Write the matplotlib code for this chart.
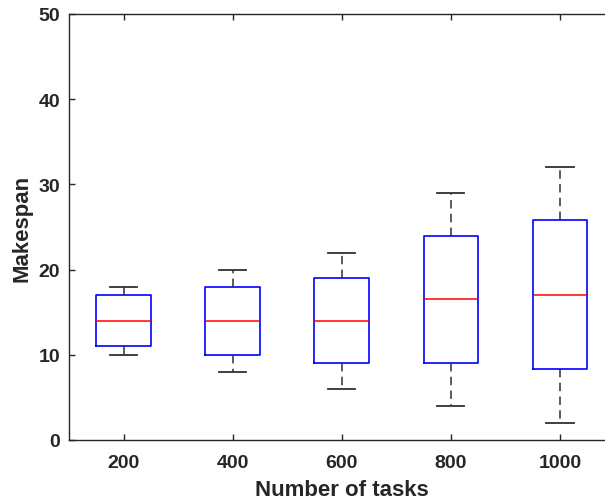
import matplotlib
matplotlib.use("Agg")
import matplotlib.pyplot as plt

plt.rcParams['font.family'] = ['Liberation Sans', 'DejaVu Sans']

# values
tasks = ["200", "400", "600", "800", "1000"]
whislo = [10, 8, 6, 4, 2]
q1 = [11, 10, 9, 9, 8.3]
med = [14, 14, 14, 16.5, 17]
q3 = [17, 18, 19, 24, 25.8]
whishi = [18, 20, 22, 29, 32]

stats = []
for i, lab in enumerate(tasks):
    stats.append(dict(label=lab, whislo=whislo[i], q1=q1[i], med=med[i],
                      q3=q3[i], whishi=whishi[i], fliers=[]))

fig = plt.figure(figsize=(6.05, 5.02), dpi=100)
ax = fig.add_axes([69 / 605, 1 - 441 / 502, 545.5 / 605, 426 / 502])

ax.bxp(stats, widths=0.5, showfliers=False,
       boxprops=dict(color='#0000ff', linewidth=1.2),
       medianprops=dict(color='#ff0000', linewidth=1.1),
       whiskerprops=dict(color='#303030', linewidth=1.1, linestyle=(0, (5.5, 3.5))),
       capprops=dict(color='#303030', linewidth=1.3), capwidths=0.25)

ax.set_xlim(0.5, 5.5)
ax.set_ylim(0, 50)
ax.set_yticks([0, 10, 20, 30, 40, 50])

dark = '#262626'
for s in ax.spines.values():
    s.set_color(dark)
    s.set_linewidth(1.0)
ax.tick_params(direction='in', length=4.5, width=1.0, colors=dark,
               top=True, right=True, labelsize=14)
for t in ax.get_xticklabels() + ax.get_yticklabels():
    t.set_fontweight('bold')
ax.tick_params(axis='x', pad=10)
ax.tick_params(axis='y', pad=6.5)

ax.set_xlabel("Number of tasks", fontsize=16, fontweight='bold', color=dark, labelpad=6)
ax.set_ylabel("Makespan", fontsize=16, fontweight='bold', color=dark, labelpad=4)

fig.savefig("out.png", dpi=100)
